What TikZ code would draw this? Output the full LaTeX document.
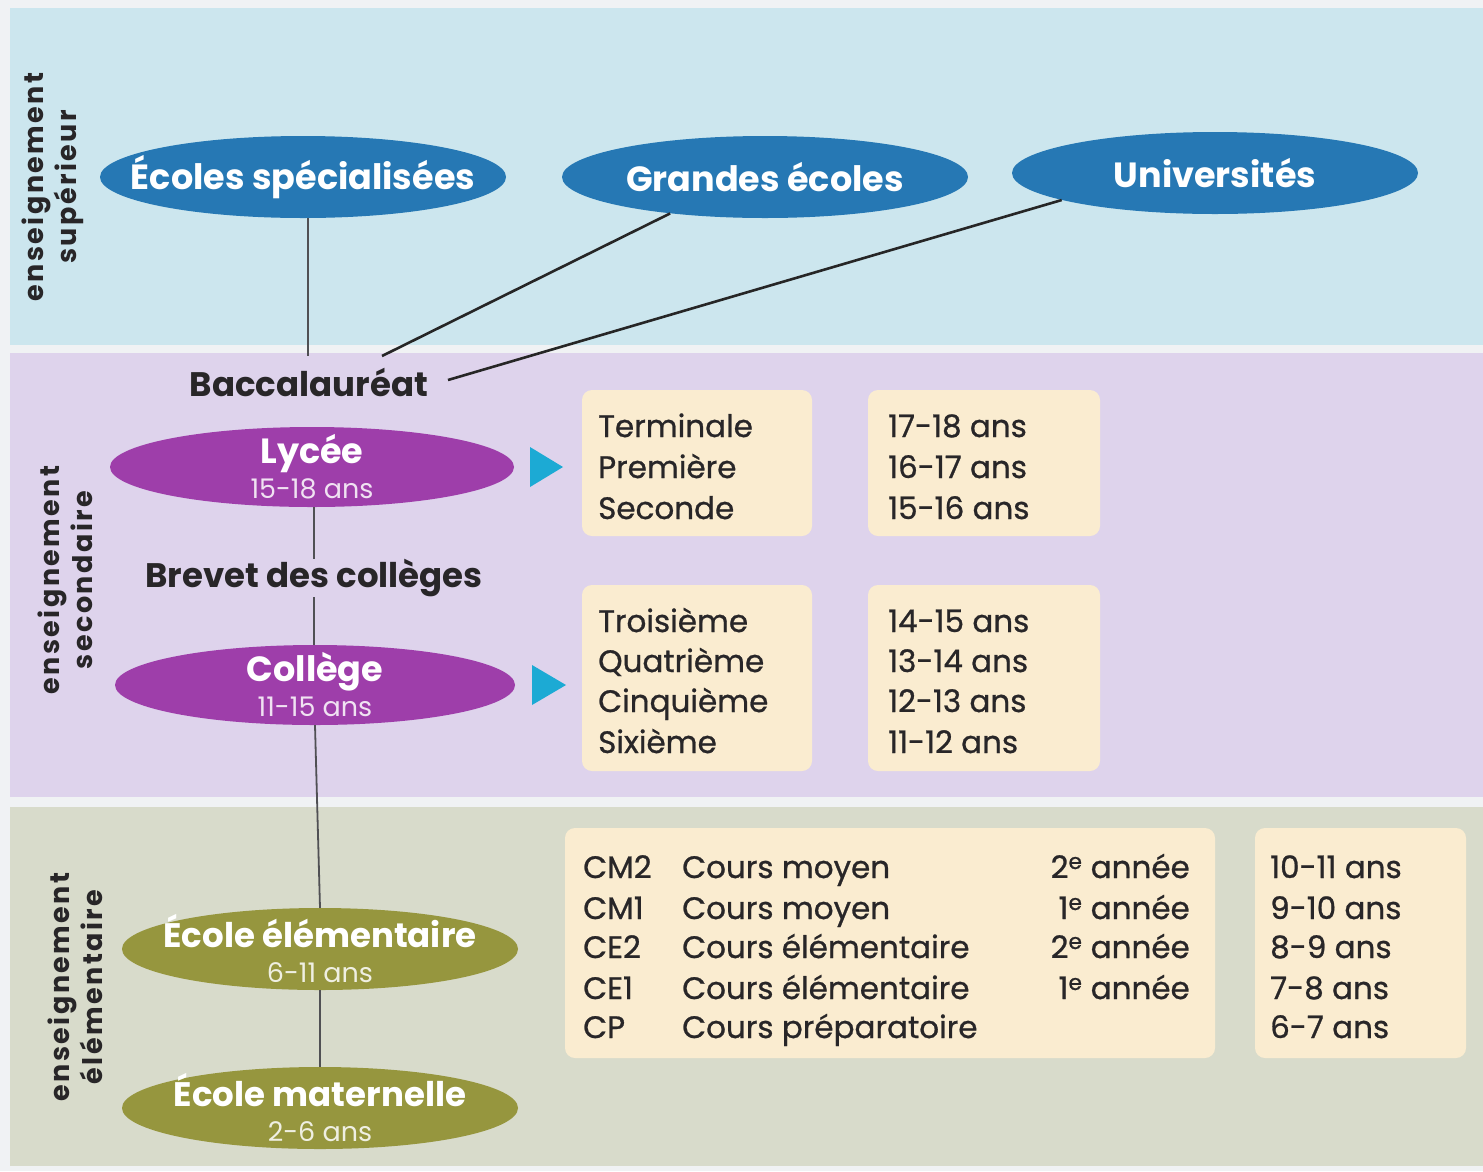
\documentclass[tikz,border=0pt]{standalone}
\usepackage{fontspec}
\setmainfont{Poppins}
\newfontfamily\bodyfont[FakeBold=0.8]{Poppins}
\newfontfamily\sidefont[LetterSpace=9]{Poppins}
\usetikzlibrary{shapes.geometric}
\definecolor{pagebg}{RGB}{240,242,244}
\definecolor{bandblue}{RGB}{204,230,238}
\definecolor{bandpurple}{RGB}{222,211,236}
\definecolor{bandgreen}{RGB}{216,219,203}
\definecolor{cream}{RGB}{250,236,208}
\definecolor{ellblue}{RGB}{38,120,180}
\definecolor{ellpurple}{RGB}{158,62,170}
\definecolor{ellolive}{RGB}{150,150,62}
\definecolor{tricyan}{RGB}{28,170,212}
\definecolor{txt}{RGB}{40,38,40}
\definecolor{linegray}{RGB}{80,80,84}
\tikzset{
  ell/.style={ellipse, inner sep=0pt, minimum width=406pt, minimum height=82pt},
  elllabel/.style={inner sep=0pt, text=white, align=center, font=\fontsize{35}{35}\selectfont},
  box/.style={fill=cream, rounded corners=10pt},
  row/.style={anchor=base west, inner sep=0pt, text=txt, font=\bodyfont\fontsize{31}{34}\selectfont},
  captext/.style={inner sep=0pt, text=txt, font=\bfseries\fontsize{34}{36}\selectfont},
  side/.style={rotate=90, align=center, inner sep=0pt, text=txt, font=\sidefont\bfseries\fontsize{27}{33}\selectfont},
  thinline/.style={draw=linegray, line width=1.8pt},
  darkline/.style={draw=black!85, line width=2.6pt},
  tri/.style={fill=tricyan}
}
\begin{document}
\begin{tikzpicture}[x=1pt,y=-1pt]
\useasboundingbox (0,0) rectangle (1483,1171);
\fill[pagebg] (0,0) rectangle (1483,1171);
% bands
\fill[bandblue] (10,8) rectangle (1483,345);
\fill[bandpurple] (10,353) rectangle (1483,797);
\fill[bandgreen] (10,807) rectangle (1483,1166);

% side labels
\node[side] (s1) at (53,187) {enseignement\\supérieur};
\node[side] (s2) at (65,580) {enseignement\\secondaire};
\node[side] (s3) at (75,987) {enseignement\\élémentaire};

% higher education ellipses
\node[ell, fill=ellblue] (ecs) at (303,177) {};
\node[ell, fill=ellblue] (ge) at (765,177) {};
\node[ell, fill=ellblue] (univ) at (1215,173) {};
\node[elllabel, font=\bfseries\fontsize{35}{35}\selectfont] (ecsL) at (ecs.center) {Écoles spécialisées};
\node[elllabel, font=\bfseries\fontsize{35}{35}\selectfont] (geL) at (ge.center) {Grandes écoles};
\node[elllabel, font=\bfseries\fontsize{35}{35}\selectfont] (univL) at (univ.center) {Universités};

% Baccalaureat
\node[captext] (bac) at (309,382) {Baccalauréat};
\coordinate (bacA) at (308,356);
\coordinate (bacB) at (382,356);
\coordinate (bacC) at (448,380);
\draw[thinline] (ecs.south -| bacA) -- (bacA);
\draw[darkline] (ge.201) -- (bacB);
\draw[darkline] (univ.190) -- (bacC);

% Lycee and College
\node[ell, fill=ellpurple, minimum width=404pt, minimum height=80pt] (lyc) at (312,467) {};
\node[elllabel] (lycL) at (lyc.center)
  {{\bfseries Lycée}\\{\color{white!85!ellpurple}\fontsize{27}{30}\selectfont 15-18 ans}};
\node[captext] (brevet) at (314,578) {Brevet des collèges};
\draw[thinline] (lyc.south -| brevet.north) -- (brevet.north);
\node[ell, fill=ellpurple, minimum width=400pt, minimum height=80pt] (col) at (315,685) {};
\node[elllabel] (colL) at (col.center)
  {{\bfseries Collège}\\{\color{white!85!ellpurple}\fontsize{27}{30}\selectfont 11-15 ans}};
\draw[thinline] (brevet.south) -- (col.north -| brevet.south);

% elementary ellipses
\node[ell, fill=ellolive, minimum width=396pt, minimum height=82pt] (elem) at (320,949) {};
\node[elllabel, font=\fontsize{34}{35}\selectfont] (elemL) at (elem.center)
  {{\bfseries École élémentaire}\\{\color{white!85!ellolive}\fontsize{27}{30}\selectfont 6-11 ans}};
\node[ell, fill=ellolive, minimum width=396pt, minimum height=82pt] (mat) at (320,1108) {};
\node[elllabel, font=\fontsize{34}{35}\selectfont] (matL) at (mat.center)
  {{\bfseries École maternelle}\\{\color{white!85!ellolive}\fontsize{27}{30}\selectfont 2-6 ans}};
\draw[thinline] (col.south) -- (elem.north);
\draw[thinline] (elem.south) -- (mat.north);

% triangles
\path[tri] (530,447) -- (563,467) -- (530,487) -- cycle;
\path[tri] (532,665) -- (566,685) -- (532,705) -- cycle;

% cream boxes
\path[box] (582,390) rectangle (812,536);
\path[box] (868,390) rectangle (1100,536);
\path[box] (582,585) rectangle (812,771);
\path[box] (868,585) rectangle (1100,771);
\path[box] (565,828) rectangle (1215,1058);
\path[box] (1255,828) rectangle (1466,1058);

% lycee rows
\node[row] (t1) at (598,437) {Terminale};
\node[row] (t2) at (598,478) {Première};
\node[row] (t3) at (598,519) {Seconde};
\node[row] (a1) at (888,437) {17-18 ans};
\node[row] (a2) at (888,478) {16-17 ans};
\node[row] (a3) at (888,519) {15-16 ans};

% college rows
\node[row] (c1) at (598,632) {Troisième};
\node[row] (c2) at (598,672) {Quatrième};
\node[row] (c3) at (598,712) {Cinquième};
\node[row] (c4) at (598,753) {Sixième};
\node[row] (b1) at (888,632) {14-15 ans};
\node[row] (b2) at (888,672) {13-14 ans};
\node[row] (b3) at (888,712) {12-13 ans};
\node[row] (b4) at (888,753) {11-12 ans};

% elementary rows
\node[row] (e1) at (583,878) {CM2};
\node[row] (e2) at (583,919) {CM1};
\node[row] (e3) at (583,958) {CE2};
\node[row] (e4) at (583,999) {CE1};
\node[row] (e5) at (583,1038) {CP};
\node[row] (n1) at (682,878) {Cours moyen};
\node[row] (n2) at (682,919) {Cours moyen};
\node[row] (n3) at (682,958) {Cours élémentaire};
\node[row] (n4) at (682,999) {Cours élémentaire};
\node[row] (n5) at (682,1038) {Cours préparatoire};
\node[row, anchor=base east] (y1) at (1190,878) {2\textsuperscript{e} année};
\node[row, anchor=base east] (y2) at (1190,919) {1\textsuperscript{e} année};
\node[row, anchor=base east] (y3) at (1190,958) {2\textsuperscript{e} année};
\node[row, anchor=base east] (y4) at (1190,999) {1\textsuperscript{e} année};
\node[row] (g1) at (1270,878) {10-11 ans};
\node[row] (g2) at (1270,919) {9-10 ans};
\node[row] (g3) at (1270,958) {8-9 ans};
\node[row] (g4) at (1270,999) {7-8 ans};
\node[row] (g5) at (1270,1038) {6-7 ans};
\end{tikzpicture}
\end{document}
